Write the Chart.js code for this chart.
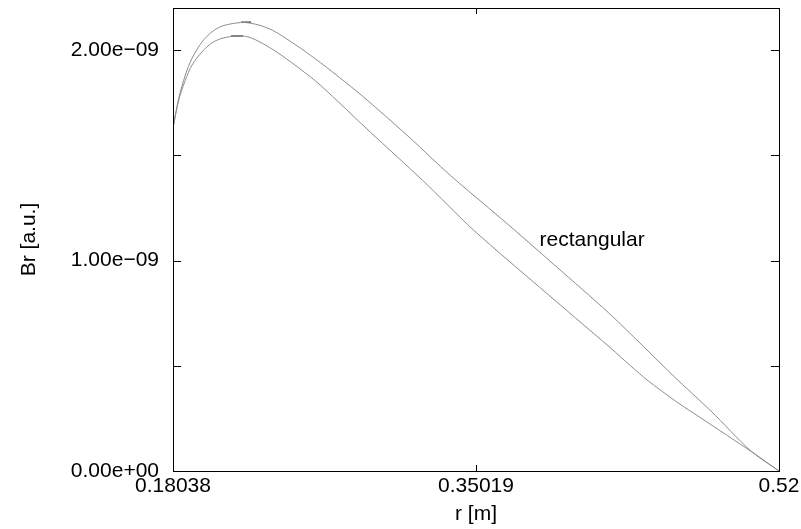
<!DOCTYPE html>
<html lang="en">
  <head>
    <meta charset="UTF-8" />
    <title>Br profile</title>
    <script src="https://cdn.jsdelivr.net/npm/chart.js@4/dist/chart.umd.min.js"></script>
    <style>
      body { margin: 0; background: #fff; }
      #wrap { width: 801px; height: 529px; }
    </style>
  </head>
  <body>
    <div id="wrap"><canvas id="chart" width="801" height="529"></canvas></div>
    <script>
      // radius [m] and Br [a.u.]
      const rUpper = [0.18038, 0.18358, 0.18728, 0.19105, 0.19666, 0.20227, 0.20789, 0.21535, 0.2208, 0.22848, 0.23595, 0.24157, 0.25167, 0.2629, 0.27693, 0.28928, 0.31342, 0.33588, 0.36395, 0.39482, 0.42457, 0.44422, 0.46106, 0.48183, 0.50429, 0.52];
      const brUpper = [1.63e-9, 1.771e-9, 1.881e-9, 1.961e-9, 2.039e-9, 2.087e-9, 2.114e-9, 2.128e-9, 2.131e-9, 2.119e-9, 2.095e-9, 2.067e-9, 2.01e-9, 1.941e-9, 1.848e-9, 1.762e-9, 1.581e-9, 1.404e-9, 1.202e-9, 0.974e-9, 0.751e-9, 0.59e-9, 0.45e-9, 0.285e-9, 0.095e-9, 0];

      const rLower = [0.18038, 0.18358, 0.18728, 0.19105, 0.19666, 0.20227, 0.20789, 0.21351, 0.21968, 0.22473, 0.23219, 0.24157, 0.25167, 0.2629, 0.29097, 0.32016, 0.34879, 0.3864, 0.42569, 0.43692, 0.44646, 0.46274, 0.47621, 0.50596, 0.52];
      const brLower = [1.63e-9, 1.762e-9, 1.857e-9, 1.929e-9, 1.992e-9, 2.035e-9, 2.056e-9, 2.065e-9, 2.067e-9, 2.056e-9, 2.024e-9, 1.973e-9, 1.91e-9, 1.834e-9, 1.61e-9, 1.382e-9, 1.145e-9, 0.869e-9, 0.584e-9, 0.499e-9, 0.43e-9, 0.328e-9, 0.252e-9, 0.084e-9, 0];

      // short black marks at the two maxima
      const rPeakUpper = [0.21855, 0.22416];
      const brPeakUpper = [2.133e-9, 2.133e-9];
      const rPeakLower = [0.21294, 0.21968];
      const brPeakLower = [2.067e-9, 2.067e-9];

      const xTicks = [0.18038, 0.35019, 0.52];
      const xTickLabels = ["0.18038", "0.35019", "0.52"];
      const yTicks = [0, 0.5e-9, 1e-9, 1.5e-9, 2e-9];
      const yTickLabels = ["0.00e+00", "", "1.00e\u221209", "", "2.00e\u221209"];

      const labelText = "rectangular";
      const labelAt = { r: 0.38584, br: 1.097e-9 };

      const FONT = "'Liberation Sans', Helvetica, Arial, sans-serif";
      const toPts = (xs, ys) => xs.map((x, i) => ({ x, y: ys[i] }));

      const line = (data, color) => ({
        data,
        borderColor: color,
        borderWidth: 1,
        pointRadius: 0,
        fill: false,
        tension: 0.3,
      });

      // frame, inward ticks, and the curve label
      const framePlugin = {
        id: "frame",
        afterDraw(chart) {
          const { ctx, chartArea: a, scales } = chart;
          ctx.save();
          ctx.strokeStyle = "#000";
          ctx.lineWidth = 1;
          ctx.strokeRect(a.left + 0.5, a.top + 0.5, a.right - a.left, a.bottom - a.top);
          ctx.beginPath();
          yTicks.forEach((v) => {
            const y = Math.round(scales.y.getPixelForValue(v)) + 0.5;
            ctx.moveTo(a.left, y); ctx.lineTo(a.left + 8, y);
            ctx.moveTo(a.right, y); ctx.lineTo(a.right - 8, y);
          });
          xTicks.forEach((v) => {
            const x = Math.round(scales.x.getPixelForValue(v)) + 0.5;
            ctx.moveTo(x, a.bottom); ctx.lineTo(x, a.bottom - 6);
            ctx.moveTo(x, a.top); ctx.lineTo(x, a.top + 6);
          });
          ctx.stroke();
          ctx.fillStyle = "#000";
          ctx.font = "21px " + FONT;
          ctx.textAlign = "left";
          ctx.textBaseline = "middle";
          ctx.fillText(labelText, scales.x.getPixelForValue(labelAt.r), scales.y.getPixelForValue(labelAt.br));
          ctx.restore();
        },
      };

      new Chart(document.getElementById("chart"), {
        type: "line",
        data: {
          datasets: [
            line(toPts(rUpper, brUpper), "#8c8c8c"),
            line(toPts(rLower, brLower), "#8c8c8c"),
            line(toPts(rPeakUpper, brPeakUpper), "#000"),
            line(toPts(rPeakLower, brPeakLower), "#000"),
          ],
        },
        options: {
          responsive: false,
          animation: false,
          layout: { padding: { top: 8, right: 22, left: 0, bottom: 0 } },
          plugins: { legend: { display: false }, tooltip: { enabled: false } },
          scales: {
            x: {
              type: "linear",
              min: 0.18038,
              max: 0.52,
              afterBuildTicks: (s) => { s.ticks = xTicks.map((value) => ({ value })); },
              afterFit: (s) => { s.height = 58; s.paddingLeft = 0; s.paddingRight = 0; },
              grid: { display: false, drawTicks: false },
              border: { display: false },
              ticks: {
                padding: 3,
                color: "#000",
                font: { family: FONT, size: 21 },
                maxRotation: 0,
                autoSkip: false,
                callback: (v, i) => xTickLabels[i],
              },
              title: {
                display: true,
                text: "r [m]",
                color: "#000",
                font: { family: FONT, size: 21 },
                padding: { top: 0, bottom: 2 },
              },
            },
            y: {
              min: 0,
              max: 2.2e-9,
              afterBuildTicks: (s) => { s.ticks = yTicks.map((value) => ({ value })); },
              afterFit: (s) => { s.width = 173; s.paddingTop = 0; s.paddingBottom = 0; },
              grid: { display: false, drawTicks: false },
              border: { display: false },
              ticks: {
                padding: 14,
                color: "#000",
                font: { family: FONT, size: 21 },
                autoSkip: false,
                callback: (v, i) => yTickLabels[i],
              },
              title: {
                display: true,
                text: "Br [a.u.]",
                color: "#000",
                font: { family: FONT, size: 21 },
                padding: { top: 17, bottom: 0 },
              },
            },
          },
        },
        plugins: [framePlugin],
      });
    </script>
  </body>
</html>
